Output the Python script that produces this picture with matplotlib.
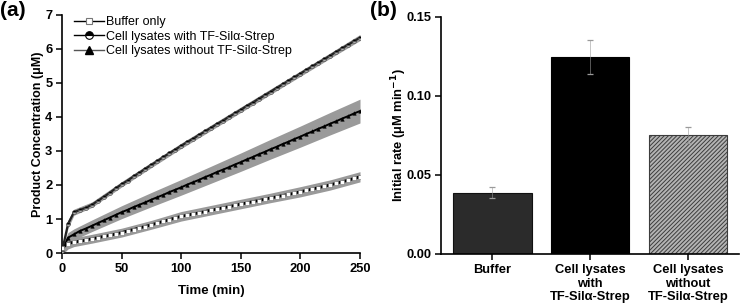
import numpy as np
import matplotlib
matplotlib.use("Agg")
import matplotlib.pyplot as plt
from matplotlib.lines import Line2D

plt.rcParams['font.family'] = ['Liberation Sans', 'DejaVu Sans']
plt.rcParams['hatch.linewidth'] = 0.7

# ---- panel (a): product concentration vs time, read every 5 min ----
time_min = list(range(0, 255, 5))

buffer_only = [0.15, 0.28, 0.32, 0.35, 0.38, 0.42, 0.45, 0.49, 0.52, 0.56,
               0.60, 0.65, 0.69, 0.74, 0.78, 0.83, 0.88, 0.93, 0.98, 1.03,
               1.08, 1.11, 1.15, 1.18, 1.22, 1.26, 1.29, 1.33, 1.36, 1.40,
               1.44, 1.47, 1.51, 1.54, 1.58, 1.62, 1.65, 1.69, 1.72, 1.76,
               1.80, 1.84, 1.88, 1.92, 1.96, 2.00, 2.05, 2.09, 2.14, 2.19, 2.24]

with_tf = [0.05, 0.85, 1.20, 1.27, 1.33, 1.42, 1.53, 1.65, 1.77, 1.90,
           2.02, 2.13, 2.25, 2.36, 2.48, 2.59, 2.70, 2.82, 2.93, 3.04,
           3.15, 3.26, 3.36, 3.47, 3.57, 3.68, 3.79, 3.89, 4.00, 4.10,
           4.21, 4.32, 4.42, 4.53, 4.63, 4.74, 4.85, 4.95, 5.06, 5.16,
           5.27, 5.38, 5.48, 5.59, 5.69, 5.80, 5.91, 6.01, 6.12, 6.22, 6.33]

without_tf = [0.05, 0.45, 0.55, 0.65, 0.72, 0.80, 0.88, 0.96, 1.04, 1.12,
              1.20, 1.27, 1.35, 1.42, 1.49, 1.57, 1.64, 1.71, 1.79, 1.86,
              1.93, 2.01, 2.08, 2.15, 2.23, 2.30, 2.38, 2.45, 2.52, 2.60,
              2.67, 2.75, 2.82, 2.90, 2.97, 3.05, 3.12, 3.20, 3.27, 3.35,
              3.42, 3.50, 3.57, 3.65, 3.72, 3.80, 3.87, 3.95, 4.02, 4.10, 4.17]

# shaded spread (half width), read at these times
band_time = [0, 5, 10, 25, 50, 75, 100, 125, 150, 175, 200, 225, 250]
buffer_sd = [0.20, 0.16, 0.13, 0.13, 0.13, 0.13, 0.14, 0.14, 0.14, 0.14, 0.15, 0.15, 0.15]
with_sd = [0.12, 0.12, 0.09, 0.08, 0.08, 0.08, 0.08, 0.08, 0.08, 0.08, 0.08, 0.08, 0.09]
without_sd = [0.15, 0.15, 0.16, 0.17, 0.19, 0.21, 0.23, 0.25, 0.27, 0.29, 0.31, 0.33, 0.35]

legend_labels = ['Buffer only', 'Cell lysates with TF-Sil\u03b1-Strep',
                 'Cell lysates without TF-Sil\u03b1-Strep']

# ---- panel (b): initial rates ----
bar_labels = ['Buffer', 'Cell lysates\nwith\nTF-Sil\u03b1-Strep',
              'Cell lysates\nwithout\nTF-Sil\u03b1-Strep']
initial_rate = [0.0388, 0.1245, 0.0752]
rate_err = [0.0035, 0.0105, 0.005]

band_grey = '#9a9a9a'

fig = plt.figure(figsize=(7.4, 3.06), dpi=100)
ax1 = fig.add_axes([0.0838, 0.173, 0.4027, 0.779])
ax2 = fig.add_axes([0.5966, 0.170, 0.4020, 0.776])

t = np.array(time_min)
band_idx = [time_min.index(v) for v in band_time]
series = [
    (np.array(buffer_only), np.array(buffer_sd)),
    (np.array(without_tf), np.array(without_sd)),
    (np.array(with_tf), np.array(with_sd)),
]
for y, sd in series:
    c = y[band_idx]
    ax1.fill_between(band_time, c - sd, c + sd, color=band_grey, lw=0,
                     zorder=1)

# buffer: black line with white open squares
ax1.plot(t, buffer_only, color='black', lw=2.0, zorder=3)
ax1.plot(t, buffer_only, ls='none', marker='s', ms=2.6, mfc='white',
         mec='#777777', mew=0.4, zorder=4)
# without TF: black line with triangles
ax1.plot(t, without_tf, color='black', lw=1.4, marker='^', ms=2.6,
         mfc='black', mec='black', mew=0.3, zorder=3)
# with TF: half filled circles
ax1.plot(t, with_tf, color='#222222', lw=1.6, marker='o', ms=2.8,
         fillstyle='top', mfc='black', mfcalt='#b0b0b0', mec='#444444',
         mew=0.4, zorder=3)

ax1.set_xlim(0, 250)
ax1.set_ylim(0, 7)
ax1.set_xticks([0, 50, 100, 150, 200, 250])
ax1.set_yticks(range(0, 8))
ax1.set_xlabel('Time (min)', fontsize=9.5, fontweight='bold', labelpad=7)
ax1.set_ylabel('Product Concentration (\u03bcM)', fontsize=9,
               fontweight='bold')
ax1.yaxis.set_label_coords(-0.062, 0.5)

handles = [
    Line2D([], [], color='black', lw=1.0, marker='s', ms=5, mfc='white',
           mec='#777777', mew=0.8),
    Line2D([], [], color='black', lw=1.0, marker='o', ms=5.5,
           fillstyle='top', mfc='black', mfcalt='white', mec='black',
           mew=0.8),
    Line2D([], [], color='#555555', lw=1.0, marker='^', ms=5.5,
           mfc='black', mec='black'),
]
ax1.legend(handles, legend_labels, loc='upper left',
           bbox_to_anchor=(0.012, 1.03), frameon=False, fontsize=9,
           handlelength=2.4, handletextpad=0.12, labelspacing=0.2,
           borderaxespad=0.3, numpoints=1)

# ---- bars ----
x = np.arange(len(bar_labels))
bar_face = ['#2b2b2b', '#000000', '#b4b4b4']
bar_hatch = [None, None, '////////']
bar_edge = ['#111111', '#000000', '#3c3c3c']
for i in range(len(x)):
    ax2.bar(x[i], initial_rate[i], width=0.8, color=bar_face[i],
            edgecolor=bar_edge[i], hatch=bar_hatch[i], lw=0.8, zorder=2)
ax2.errorbar(x, initial_rate, yerr=rate_err, fmt='none', ecolor='#9a9a9a',
             elinewidth=0.4, capsize=2.5, capthick=0.9, zorder=3)

ax2.set_xlim(-0.52, 2.52)
ax2.set_ylim(0, 0.15)
ax2.set_yticks([0.0, 0.05, 0.10, 0.15])
ax2.set_yticklabels(['0.00', '0.05', '0.10', '0.15'])
ax2.set_xticks(x)
ax2.set_xticklabels(bar_labels, linespacing=1.2)
ax2.set_ylabel('Initial rate (\u03bcM min$^{\\mathbf{-1}}$)', fontsize=9.3,
               fontweight='bold')
ax2.yaxis.set_label_coords(-0.11, 0.5)

for ax in (ax1, ax2):
    ax.spines['top'].set_visible(False)
    ax.spines['right'].set_visible(False)
    ax.spines['left'].set_linewidth(1.2)
    ax.spines['bottom'].set_linewidth(1.2)
    ax.tick_params(direction='out', length=4, width=1.1, labelsize=9.3,
                   pad=3)
    for lab in ax.get_xticklabels() + ax.get_yticklabels():
        lab.set_fontweight('bold')

fig.text(0.0, 0.998, '(a)', fontsize=15, fontweight='bold', va='top',
         ha='left')
fig.text(0.5, 0.998, '(b)', fontsize=15, fontweight='bold', va='top',
         ha='left')

fig.savefig('out.png', dpi=100)
